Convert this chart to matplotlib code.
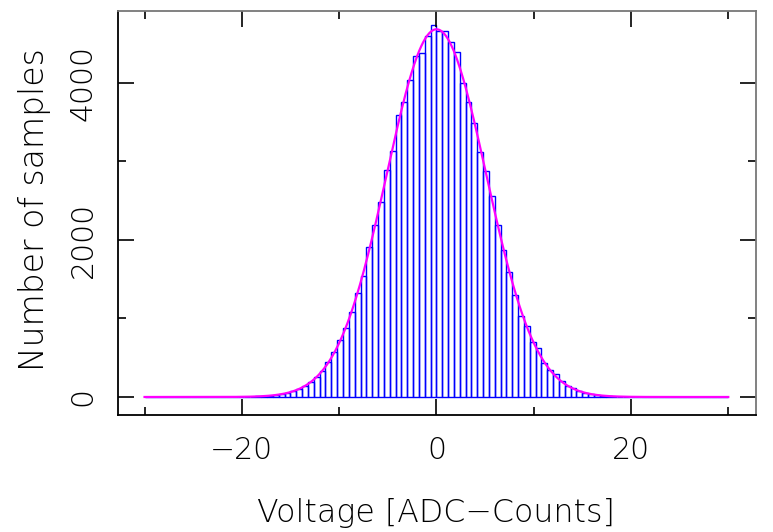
import numpy as np
import matplotlib
matplotlib.use("Agg")
import matplotlib.pyplot as plt
from matplotlib.ticker import MultipleLocator

# histogram: 100 bins of 0.6 ADC counts from -30 to 30
bin_lo = -30.0
bin_hi = 30.0
counts = [0, 0, 0, 0, 0, 0, 0, 0, 0, 0,
          0, 1, 0, 1, 1, 2, 2, 4, 5, 8,
          11, 16, 24, 35, 55, 78, 99, 140, 193, 258,
          330, 442, 577, 722, 885, 1079, 1321, 1540, 1905, 2191,
          2488, 2890, 3140, 3588, 3754, 4038, 4350, 4386, 4600, 4745,
          4668, 4668, 4526, 4398, 3996, 3762, 3486, 3125, 2879, 2556,
          2191, 1873, 1597, 1299, 1032, 904, 705, 620, 429, 344,
          289, 208, 140, 110, 81, 55, 34, 22, 14, 9,
          6, 4, 3, 2, 1, 1, 0, 1, 0, 0,
          0, 0, 0, 0, 0, 0, 0, 0, 0, 0]

xlabel = "Voltage [ADC\u2212Counts]"
ylabel = "Number of samples"

counts = np.array(counts, dtype=float)
edges = np.linspace(bin_lo, bin_hi, len(counts) + 1)
centers = 0.5 * (edges[:-1] + edges[1:])
bw = edges[1] - edges[0]

# gaussian fit from the moments of the histogram
n_tot = counts.sum()
mu = (counts * centers).sum() / n_tot
sig = np.sqrt((counts * (centers - mu) ** 2).sum() / n_tot)
amp = n_tot * bw / (sig * np.sqrt(2 * np.pi))
xf = np.linspace(bin_lo, bin_hi, 600)
yf = amp * np.exp(-0.5 * ((xf - mu) / sig) ** 2)

plt.rcParams['font.family'] = ['DejaVu Sans']
plt.rcParams['font.weight'] = 200

fig = plt.figure(figsize=(7.73, 5.32), dpi=100)
ax = fig.add_axes([0.153, 0.2194, 0.825, 0.7599])

ax.bar(edges[:-1], counts, width=bw, align='edge', fill=False,
       edgecolor='#0000ff', linewidth=1.0)
ax.plot(xf, yf, color='#ff00ff', lw=1.6)

ax.set_xlim(-32.7, 32.85)
ax.set_ylim(-233, 4917)

ax.xaxis.set_major_locator(MultipleLocator(20))
ax.xaxis.set_minor_locator(MultipleLocator(10))
ax.yaxis.set_major_locator(MultipleLocator(2000))
ax.yaxis.set_minor_locator(MultipleLocator(1000))

ax.tick_params(which='both', direction='in', top=True, right=True,
               width=1.2, color='black')
ax.tick_params(which='major', length=11.5)
ax.tick_params(which='minor', length=5.8)
ax.tick_params(axis='x', which='major', labelsize=21.5, pad=15)
ax.tick_params(axis='y', which='major', labelsize=21.5, pad=15)
for lab in ax.get_yticklabels():
    lab.set_rotation(90)
    lab.set_va('center')

for s in ('left', 'bottom'):
    ax.spines[s].set_color('black')
    ax.spines[s].set_linewidth(1.3)
for s in ('top', 'right'):
    ax.spines[s].set_color('#777777')
    ax.spines[s].set_linewidth(1.3)

fig.text(436 / 773, 1 - 513 / 532, xlabel, ha='center', va='center', fontsize=22.8)
fig.text(35 / 773, 1 - 210 / 532, ylabel, ha='center', va='center',
         rotation=90, fontsize=23.8)

fig.savefig("out.png", dpi=100)
